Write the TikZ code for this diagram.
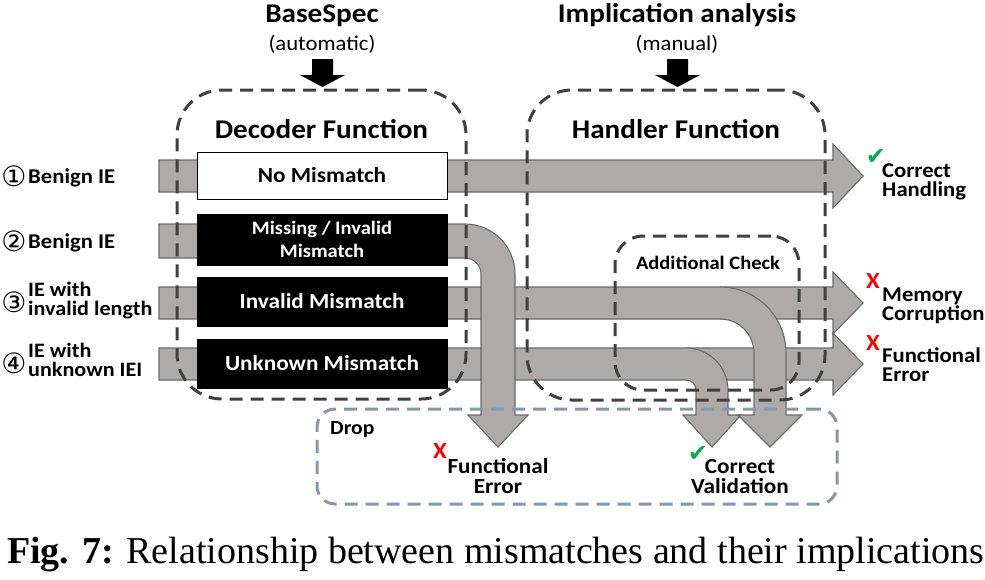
\documentclass[tikz,border=0pt]{standalone}
\usepackage{fontspec}
\setmainfont{Carlito}[FakeStretch=1.08]
\newfontfamily\symfont{DejaVu Sans}
\newfontfamily\capfont{Liberation Serif}
\definecolor{bandgray}{HTML}{AEAAAA}
\definecolor{bandedge}{HTML}{6B6B6B}
\definecolor{dashdark}{HTML}{404040}
\definecolor{dropblue}{HTML}{8497B0}
\definecolor{okgreen}{HTML}{00B050}
\definecolor{errred}{HTML}{FF0000}
\begin{document}
\begin{tikzpicture}[x=1pt,y=-1pt,
  band/.style={fill=bandgray,draw=bandedge,line width=1.1pt,line join=miter},
  bandfill/.style={fill=bandgray},
  bandline/.style={draw=bandedge,line width=1.1pt,line join=miter},
  dbox/.style={draw=dashdark,line width=3pt,dash pattern=on 13pt off 8pt,inner sep=0pt},
  dropbox/.style={draw=dropblue,line width=3pt,dash pattern=on 13pt off 8pt,inner sep=0pt},
  mbox/.style={fill=black,draw=black,line width=1pt,minimum width=250pt,inner sep=0pt,text=white,font=\fontsize{21.5}{23}\selectfont\bfseries,align=center},
  wbox/.style={mbox,fill=white,text=black},
  ttl/.style={font=\fontsize{27}{30}\selectfont\bfseries,inner sep=0pt,anchor=base},
  subt/.style={font=\fontsize{21}{24}\selectfont,inner sep=0pt,anchor=base},
  lbl/.style={font=\fontsize{21}{23}\selectfont\bfseries,inner sep=0pt,anchor=base west},
  slbl/.style={font=\fontsize{20.5}{22}\selectfont\bfseries,inner sep=0pt,anchor=base west},
  clbl/.style={font=\fontsize{21.5}{23}\selectfont\bfseries,inner sep=0pt,anchor=base},
  circ/.style={font=\symfont\fontsize{28}{30}\selectfont,inner sep=0pt},
  chk/.style={font=\symfont\fontsize{24}{26}\selectfont,text=okgreen,inner sep=0pt},
  bad/.style={font=\fontsize{23}{24}\selectfont\bfseries,text=errred,inner sep=0pt},
  blk/.style={fill=black}
]
\useasboundingbox (0,0) rectangle (985,579);

% ---------- gray block arrows ----------
% row 1
\path[band] (159,160) -- (833,160) -- (833,144) -- (863,176) -- (833,208) -- (833,192) -- (159,192) -- cycle;
% row 4 straight
\path[band] (159,348) -- (833,348) -- (833,333) -- (863,364) -- (833,395) -- (833,380) -- (159,380) -- cycle;
% row 3 straight
\path[band] (159,287) -- (833,287) -- (833,272) -- (863,303) -- (833,334) -- (833,319) -- (159,319) -- cycle;
% row 4 branch
\fill[bandfill] (686,348) .. controls (709.2,348) and (728,366.8) .. (728,390) -- (728,415) -- (741,415) -- (712,447) -- (683,415) -- (696,415) -- (696,390) .. controls (696,384.5) and (691.5,380) .. (686,380) -- cycle;
\draw[bandline] (686,348) .. controls (709.2,348) and (728,366.8) .. (728,390) -- (728,415) -- (741,415) -- (712,447) -- (683,415) -- (696,415) -- (696,390) .. controls (696,384.5) and (691.5,380) .. (686,380);
% row 3 branch
\fill[bandfill] (720,287) .. controls (756.5,287) and (786,316.5) .. (786,353) -- (786,415) -- (802,415) -- (770,447) -- (738,415) -- (754,415) -- (754,353) .. controls (754,334.2) and (738.8,319) .. (720,319) -- cycle;
\draw[bandline] (720,287) .. controls (756.5,287) and (786,316.5) .. (786,353) -- (786,415) -- (802,415) -- (770,447) -- (738,415) -- (754,415) -- (754,353) .. controls (754,334.2) and (738.8,319) .. (720,319);
% row 2 (bent down)
\path[band] (159,224) -- (465,224) .. controls (492.6,224) and (515,246.4) .. (515,274) -- (515,415) -- (528,415) -- (498,447) -- (468,415) -- (481,415) -- (481,274) .. controls (481,265.2) and (473.8,258) .. (465,258) -- (159,258) -- cycle;

% ---------- mismatch boxes ----------
\node[wbox,minimum height=47pt] (b1) at (322,175.5) {No Mismatch};
\node[mbox,minimum height=51pt,font=\fontsize{19}{23}\selectfont\bfseries] (b2) at (322,239.5) {Missing / Invalid\\Mismatch};
\node[mbox,minimum height=49pt] (b3) at (322,301.5) {Invalid Mismatch};
\node[mbox,minimum height=49pt] (b4) at (322,363.5) {Unknown Mismatch};

% ---------- dashed regions ----------
\node[dbox,rounded corners=45pt,minimum width=289pt,minimum height=309pt] (dec) at (321.5,244.5) {};
\node[dbox,rounded corners=45pt,minimum width=298pt,minimum height=310pt] (han) at (676,245) {};
\node[dbox,rounded corners=28pt,minimum width=184pt,minimum height=154pt] (add) at (707,313) {};
\node[dropbox,rounded corners=18pt,minimum width=520pt,minimum height=95pt] (drop) at (577,456.5) {};

% ---------- headings ----------
\node[ttl] (bs) at (322,22) {BaseSpec};
\node[subt] (bsa) at (322,50) {(automatic)};
\node[ttl] (ia) at (677,22) {Implication analysis};
\node[subt] (iam) at (677,50) {(manual)};
\fill[blk] (312,59) -- (333,59) -- (333,75) -- (345,75) -- (322.5,87) -- (300,75) -- (312,75) -- cycle;
\fill[blk] (667,59) -- (688,59) -- (688,75) -- (700,75) -- (677.5,87) -- (655,75) -- (667,75) -- cycle;
\node[ttl] (decT) at (321.5,138) {Decoder Function};
\node[ttl] (hanT) at (676,138) {Handler Function};
\node[font=\fontsize{19}{21}\selectfont\bfseries,inner sep=0pt,anchor=base] (addT) at (708,269) {Additional Check};
\node[font=\fontsize{20}{22}\selectfont\bfseries,inner sep=0pt,anchor=base west] (dropT) at (330,434) {Drop};

% ---------- left labels ----------
\node[circ] (n1) at (14,176) {①};
\node[lbl] (l1) at (28,183) {Benign IE};
\node[circ] (n2) at (14,241) {②};
\node[lbl] (l2) at (28,248) {Benign IE};
\node[circ] (n3) at (14,302) {③};
\node[slbl] (l3a) at (28,296) {IE with};
\node[slbl] (l3b) at (28,315) {invalid length};
\node[circ] (n4) at (14,363) {④};
\node[slbl] (l4a) at (28,357) {IE with};
\node[slbl] (l4b) at (28,376) {unknown IEI};

% ---------- right labels ----------
\node[chk] (ck1) at (876,157) {✔};
\node[lbl] (r1a) at (882,177) {Correct};
\node[lbl] (r1b) at (882,196) {Handling};
\node[bad] (x3) at (873,281) {X};
\node[lbl] (r3a) at (882,301) {Memory};
\node[lbl] (r3b) at (882,320) {Corruption};
\node[bad] (x4) at (873,343) {X};
\node[lbl] (r4a) at (882,362) {Functional};
\node[lbl] (r4b) at (882,381) {Error};

% ---------- bottom labels ----------
\node[bad] (x2) at (440,451) {X};
\node[clbl] (fe1) at (498,473) {Functional};
\node[clbl] (fe2) at (498,493) {Error};
\node[chk] (ck2) at (698,454) {✔};
\node[clbl] (cv1) at (740,473) {Correct};
\node[clbl] (cv2) at (740,493) {Validation};

% ---------- caption ----------
\node[anchor=base west,inner sep=0pt,font=\capfont\fontsize{38}{40}\selectfont] (cap) at (7,563) {\textbf{Fig. 7:} Relationship between mismatches and their implications};
\end{tikzpicture}
\end{document}
